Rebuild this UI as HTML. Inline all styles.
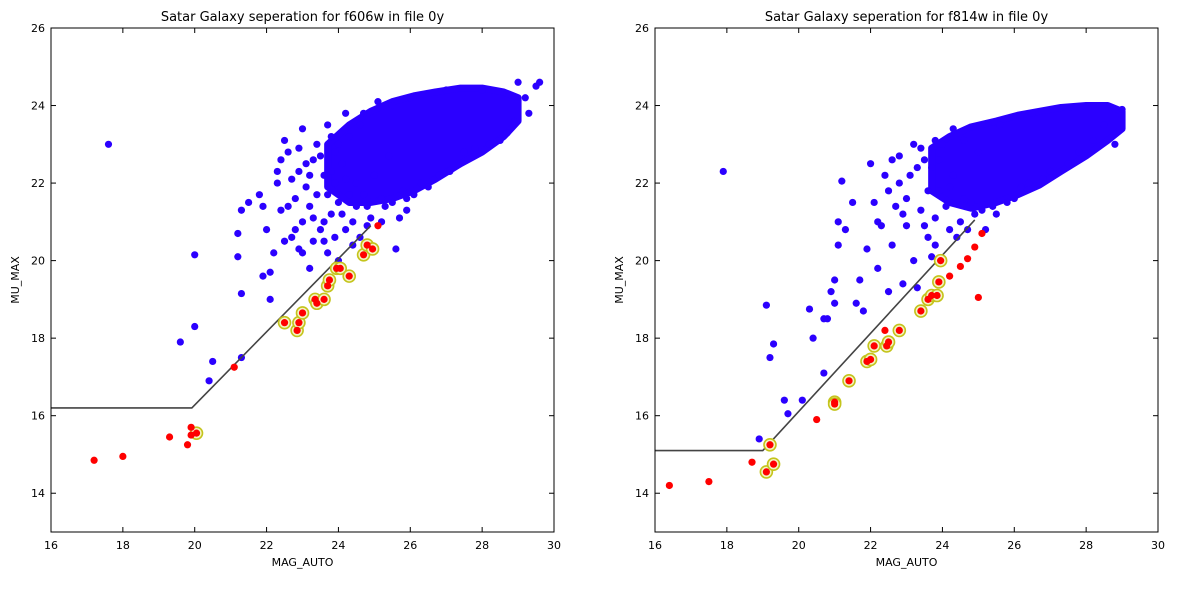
<!DOCTYPE html>
<html><head><meta charset="utf-8">
<style>
body{margin:0;background:#fff;width:1199px;height:589px;overflow:hidden;font-family:"DejaVu Sans","Liberation Sans",sans-serif;}
svg text{font-family:"DejaVu Sans","Liberation Sans",sans-serif;fill:#000;}
</style></head>
<body>
<svg id="chart" width="1199" height="589"></svg>
<script>
// ---------- data: left panel (f606w) ----------
const leftBlue = [[17.6,23.0],[20.0,20.15],[20.0,18.3],[19.6,17.9],[20.5,17.4],[20.4,16.9],[21.3,17.5],[21.3,19.15],[21.2,20.1],[21.2,20.7],[21.3,21.3],[21.5,21.5],[21.8,21.7],[21.9,21.4],[21.9,19.6],[22.1,19.0],[22.1,19.7],[22.2,20.2],[22.3,22.3],[22.3,22.0],[22.4,21.3],[22.5,20.5],[22.6,21.4],[22.8,20.8],[22.9,20.3],[22.9,22.3],[22.9,22.9],[23.0,21.0],[23.1,21.9],[23.2,19.8],[23.3,20.5],[23.3,22.6],[23.4,21.7],[23.5,20.8],[23.6,22.2],[23.7,20.2],[23.8,21.2],[23.9,22.8],[24.0,20.0],[24.0,21.5],[24.1,22.5],[24.2,20.8],[24.3,23.2],[24.4,21.0],[24.5,22.0],[24.6,20.6],[24.6,23.5],[24.8,21.4],[25.0,22.2],[25.1,24.1],[25.2,21.0],[25.4,22.7],[25.6,20.3],[25.7,21.1],[25.9,21.6],[22.5,23.1],[23.0,23.4],[23.7,23.5],[24.2,23.8],[24.0,23.0],[25.5,24.0],[26.0,24.2],[27.0,24.4],[28.0,24.4],[29.0,24.6],[29.5,24.5],[29.6,24.6],[29.3,23.8],[28.7,23.3],[28.2,23.0],[27.5,22.8],[26.8,22.2],[26.3,22.0],[25.5,21.5],[23.6,21.0],[22.7,22.1],[23.2,21.4],[24.3,21.7],[23.0,20.2],[22.0,20.8],[23.5,22.7],[23.8,22.3],[23.4,23.0],[23.7,21.7],[24.2,22.1],[24.5,21.4],[24.9,21.1],[23.1,22.5],[22.8,21.6],[23.3,21.1],[23.9,20.6],[24.4,20.4],[24.1,21.2],[23.6,20.5],[22.7,20.6],[24.8,20.9],[25.3,21.4],[25.8,21.8],[26.1,21.7],[22.4,22.6],[23.8,23.2],[24.7,23.8],[27.8,22.9],[28.5,23.1],[26.5,21.9],[27.1,22.3],[25.9,21.3],[25.2,21.6],[24.7,21.7],[23.9,22.0],[23.2,22.2],[22.6,22.8],[28.9,23.6],[29.2,24.2]];
const leftCoreMag = [23.7,24.3,24.9,25.5,26.1,26.7,27.4,28.0,28.6,29.0];
const leftCoreLow = [21.9,21.5,21.5,21.6,21.8,22.1,22.5,22.8,23.2,23.6];
const leftCoreHigh = [23.0,23.5,23.85,24.1,24.25,24.35,24.45,24.45,24.35,24.2];
const leftRed = [[17.2,14.85],[18.0,14.95],[19.3,15.45],[19.8,15.25],[19.9,15.5],[19.9,15.7],[21.1,17.25],[25.1,20.9]];
const leftRinged = [[20.05,15.55],[22.5,18.4],[22.85,18.2],[22.9,18.4],[23.0,18.65],[23.35,19.0],[23.4,18.9],[23.6,19.0],[23.7,19.35],[23.75,19.5],[23.95,19.8],[24.05,19.8],[24.3,19.6],[24.7,20.15],[24.8,20.4],[24.95,20.3]];
const leftLine = [[16,16.2],[19.92,16.2],[24.9,20.9]];
// ---------- data: right panel (f814w) ----------
const rightBlue = [[17.9,22.3],[18.9,15.4],[19.1,18.85],[19.2,17.5],[19.3,17.85],[19.6,16.4],[19.7,16.05],[20.1,16.4],[20.3,18.75],[20.4,18.0],[20.7,18.5],[20.7,17.1],[20.8,18.5],[20.9,19.2],[21.0,18.9],[21.0,19.5],[21.1,20.4],[21.1,21.0],[21.2,22.05],[21.3,20.8],[21.5,21.5],[21.6,18.9],[21.7,19.5],[21.8,18.7],[21.9,20.3],[22.0,22.5],[22.1,21.5],[22.2,19.8],[22.3,20.9],[22.5,21.8],[22.5,19.2],[22.6,20.4],[22.8,22.0],[22.9,19.4],[23.0,20.9],[23.1,22.2],[23.2,20.0],[23.3,19.3],[23.4,21.3],[23.6,20.6],[23.7,22.4],[23.8,20.4],[23.9,21.8],[24.0,23.0],[24.2,20.8],[24.3,22.2],[24.5,21.0],[24.6,23.1],[24.8,21.5],[25.0,22.8],[25.2,20.8],[25.4,21.4],[25.6,23.5],[26.0,21.6],[22.8,22.7],[23.4,22.9],[26.5,23.8],[28.8,23.0],[29.0,23.9],[28.5,23.5],[27.5,22.5],[27.0,22.3],[26.4,22.0],[22.2,21.0],[23.0,21.6],[24.1,21.4],[22.6,22.6],[23.3,22.4],[23.6,21.8],[23.9,22.6],[24.2,21.9],[23.5,20.9],[23.8,21.1],[22.9,21.2],[22.4,22.2],[23.2,23.0],[24.4,20.6],[24.7,20.8],[24.9,21.2],[23.7,20.1],[22.7,21.4],[25.1,21.3],[25.8,21.5],[27.8,22.8],[28.2,23.1],[24.3,23.4],[23.8,23.1],[26.2,21.9],[26.8,22.1],[25.5,21.2],[24.6,21.6],[23.5,22.6]];
const rightCoreMag = [23.7,24.2,24.8,25.5,26.1,26.7,27.3,28.0,28.6,29.0];
const rightCoreLow = [21.8,21.5,21.35,21.5,21.7,21.95,22.3,22.7,23.1,23.4];
const rightCoreHigh = [22.9,23.2,23.45,23.6,23.75,23.85,23.95,24.0,24.0,23.85];
const rightRed = [[16.4,14.2],[17.5,14.3],[18.7,14.8],[20.5,15.9],[22.4,18.2],[24.2,19.6],[24.5,19.85],[24.7,20.05],[24.9,20.35],[25.0,19.05],[25.1,20.7]];
const rightRinged = [[19.1,14.55],[19.3,14.75],[19.2,15.25],[21.0,16.35],[21.0,16.3],[21.4,16.9],[21.9,17.4],[22.0,17.45],[22.1,17.8],[22.45,17.8],[22.5,17.9],[22.8,18.2],[23.4,18.7],[23.6,19.0],[23.7,19.1],[23.85,19.1],[23.9,19.45],[23.95,20.0]];
const rightLine = [[16,15.1],[19.0,15.1],[24.9,21.05]];
const xTicks = [16,18,20,22,24,26,28,30];
const yTicks = [14,16,18,20,22,24,26];

const NS = "http://www.w3.org/2000/svg";
const svg = document.getElementById('chart');
function mk(tag, attrs, parent){const e=document.createElementNS(NS,tag);for(const k in attrs)e.setAttribute(k,attrs[k]);(parent||svg).appendChild(e);return e;}

function panel(x0, title, key, blue, coreMag, coreLow, coreHigh, red, ringed, line){
  const top=28, h=504, w=503;
  const X=v=>x0+(v-16)/14*w;
  const Y=v=>top+(26-v)/13*h;
  const g=mk('g',{});
  
  
  const clip=mk('clipPath',{id:'clip-'+key},g);
  mk('rect',{x:x0,y:top,width:w,height:h},clip);
  const plot=mk('g',{'clip-path':'url(#clip-'+key+')'},g);
  let pts=[];
  for(let i=0;i<coreMag.length;i++) pts.push(X(coreMag[i])+','+Y(coreHigh[i]));
  for(let i=coreMag.length-1;i>=0;i--) pts.push(X(coreMag[i])+','+Y(coreLow[i]));
  const core=mk('polygon',{points:pts.join(' '),fill:'#2b00ff',stroke:'#2b00ff','stroke-width':7,'stroke-linejoin':'round'},plot);
  
  
  blue.forEach(p=>{
    const c=mk('circle',{cx:X(p[0]),cy:Y(p[1]),r:3.6,fill:'#2b00ff'},plot);
    
    
  });
  const l=mk('polyline',{points:line.map(p=>X(p[0])+','+Y(p[1])).join(' '),fill:'none',stroke:'#444','stroke-width':1.6},plot);
  
  
  ringed.forEach(p=>{
    const c=mk('circle',{cx:X(p[0]),cy:Y(p[1]),r:6,fill:'#f4f4c4',stroke:'#c4c41c','stroke-width':1.6},plot);
    
    
  });
  red.concat(ringed).forEach(p=>{
    const c=mk('circle',{cx:X(p[0]),cy:Y(p[1]),r:3.6,fill:'#ff0000'},plot);
    
    
  });
  const frame=mk('rect',{x:x0,y:top,width:w,height:h,fill:'none',stroke:'#000','stroke-width':1},g);
  
  
  xTicks.forEach(t=>{
    const x=X(t);
    mk('line',{x1:x,x2:x,y1:top+h,y2:top+h-5,stroke:'#000'},g);
    mk('line',{x1:x,x2:x,y1:top,y2:top+5,stroke:'#000'},g);
    const tx=mk('text',{x:x,y:top+h+17,'font-size':11,'text-anchor':'middle'},g);
    tx.textContent=t;
    
    
  });
  yTicks.forEach(t=>{
    const y=Y(t);
    mk('line',{x1:x0,x2:x0+5,y1:y,y2:y,stroke:'#000'},g);
    mk('line',{x1:x0+w,x2:x0+w-5,y1:y,y2:y,stroke:'#000'},g);
    const tx=mk('text',{x:x0-6,y:y+4,'font-size':11,'text-anchor':'end'},g);
    tx.textContent=t;
    
    
  });
  const tt=mk('text',{x:x0+w/2,y:21,'font-size':13,'text-anchor':'middle'},g);
  tt.textContent=title;
  
  
  const xl=mk('text',{x:x0+w/2,y:566,'font-size':11,'text-anchor':'middle'},g);
  xl.textContent='MAG_AUTO';
  
  
  const yl=mk('text',{x:0,y:0,'font-size':11,'text-anchor':'middle',transform:'translate('+(x0-32)+','+(top+h/2)+') rotate(-90)'},g);
  yl.textContent='MU_MAX';
  
  
}
panel(51,'Satar Galaxy seperation for f606w in file 0y','f606w',leftBlue,leftCoreMag,leftCoreLow,leftCoreHigh,leftRed,leftRinged,leftLine);
panel(655,'Satar Galaxy seperation for f814w in file 0y','f814w',rightBlue,rightCoreMag,rightCoreLow,rightCoreHigh,rightRed,rightRinged,rightLine);
</script>
</body></html>
